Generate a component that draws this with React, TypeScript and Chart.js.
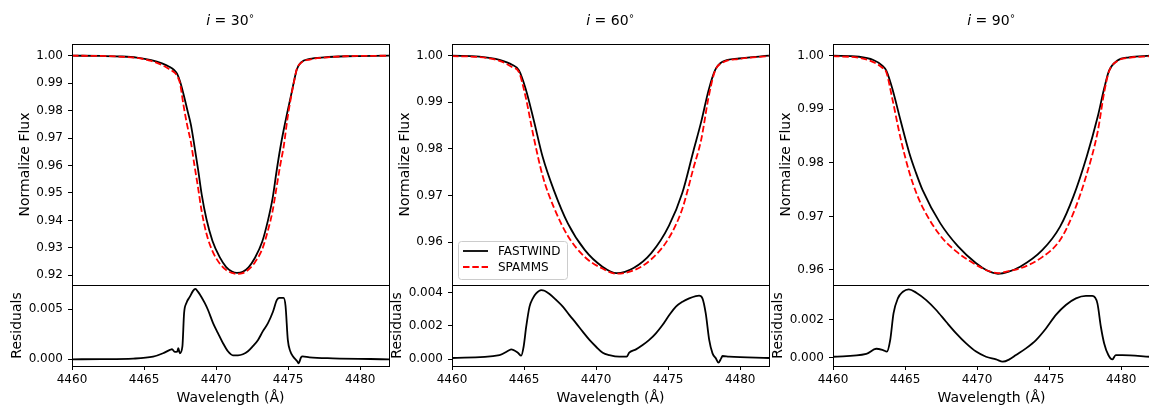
import { useEffect, useRef } from "react";
import { Chart, registerables } from "chart.js";

Chart.register(...registerables);

// ---------------- data ----------------
const INCLINATIONS = [30, 60, 90];
const SERIES_NAMES = ["FASTWIND", "SPAMMS"];
const X_MIN = 4460;
const X_MAX = 4482;
const X_STEP = 5;
const FLUX_STEP = 0.01;
const RES_STEPS = [0.005, 0.002, 0.002];
const FLUX_RANGES = [
  [0.91647, 1.00426],
  [0.95077, 1.00251],
  [0.9572, 1.00218],
];
const RES_RANGES = [
  [-0.000666, 0.007386],
  [-0.000422, 0.004465],
  [-0.000437, 0.003826],
];

// i = 30
const WAVE_30 = [4460, 4462, 4463.5, 4464.5, 4465.5, 4466.25, 4466.75, 4467.1, 4467.3, 4467.5, 4467.75, 4468, 4468.25, 4468.5, 4468.75, 4469, 4469.33, 4469.75, 4470.25, 4470.7, 4471.1, 4471.45, 4471.85, 4472.25, 4472.7, 4473.2, 4473.6, 4473.92, 4474.2, 4474.45, 4474.7, 4474.95, 4475.2, 4475.4, 4475.6, 4475.9, 4476.5, 4477.5, 4479, 4482];
const FASTWIND_30 = [1.0, 0.9999, 0.9997, 0.9993, 0.9984, 0.9972, 0.996, 0.9947, 0.9934, 0.9906, 0.9858, 0.9803, 0.9749, 0.967, 0.9586, 0.9495, 0.9405, 0.9325, 0.9266, 0.923, 0.9214, 0.9209, 0.9213, 0.9229, 0.9264, 0.9322, 0.94, 0.948, 0.958, 0.9662, 0.9732, 0.9795, 0.9855, 0.9905, 0.995, 0.9976, 0.9988, 0.9994, 0.9998, 1.0];
const SPAMMS_30 = [1.0, 0.9999, 0.9996, 0.9992, 0.9981, 0.9966, 0.9951, 0.9939, 0.9926, 0.9898, 0.9816, 0.9745, 0.9685, 0.96, 0.9519, 0.9433, 0.9352, 0.9288, 0.9243, 0.9219, 0.9209, 0.9205, 0.9208, 0.9221, 0.9248, 0.9295, 0.9364, 0.9434, 0.9522, 0.9601, 0.9672, 0.977, 0.9849, 0.9903, 0.9951, 0.9974, 0.9986, 0.9993, 0.9998, 1.0];
const RES_WAVE_30 = [4460, 4462, 4464.25, 4465.63, 4466.32, 4466.79, 4466.94, 4467.13, 4467.3, 4467.38, 4467.48, 4467.66, 4467.78, 4467.94, 4468.17, 4468.4, 4468.56, 4468.75, 4468.98, 4469.21, 4469.44, 4469.79, 4470.13, 4470.48, 4470.82, 4471.17, 4471.52, 4471.86, 4472.21, 4472.55, 4472.9, 4473.25, 4473.6, 4473.94, 4474.22, 4474.4, 4474.68, 4474.82, 4474.98, 4475.15, 4475.33, 4475.63, 4475.72, 4475.9, 4476.0, 4476.48, 4478.1, 4482];
const RES_30 = [0.0, 0.00002, 0.00007, 0.00026, 0.0006, 0.00093, 0.001, 0.00073, 0.00076, 0.0011, 0.0006, 0.00126, 0.0046, 0.0056, 0.0062, 0.0068, 0.007, 0.0067, 0.0062, 0.0056, 0.0049, 0.0036, 0.0026, 0.0016, 0.0008, 0.0004, 0.0004, 0.0005, 0.0008, 0.0013, 0.0019, 0.0028, 0.0036, 0.0047, 0.0059, 0.0061, 0.0061, 0.0053, 0.0019, 0.0008, 0.0003, -0.0002, -0.0004, 0.0002, 0.0003, 0.0002, 0.0001, 0.0];

// i = 60
const WAVE_60 = [4460, 4461.9, 4463.3, 4464.2, 4464.64, 4465.1, 4465.67, 4466.29, 4467.06, 4468.04, 4469.21, 4470.44, 4471.43, 4472.6, 4473.83, 4475.06, 4475.98, 4476.75, 4477.31, 4477.8, 4478.26, 4478.77, 4479.92, 4482];
const FASTWIND_60 = [1.0, 0.9998, 0.9991, 0.998, 0.9969, 0.993, 0.9862, 0.9783, 0.9712, 0.964, 0.9583, 0.9547, 0.9533, 0.9544, 0.9576, 0.9635, 0.9705, 0.9795, 0.986, 0.9925, 0.9969, 0.9987, 0.9994, 1.0];
const SPAMMS_60 = [0.9999, 0.9997, 0.9989, 0.9975, 0.9965, 0.9913, 0.9825, 0.9742, 0.9675, 0.9613, 0.9568, 0.9543, 0.9532, 0.9539, 0.9563, 0.9609, 0.9671, 0.9758, 0.9822, 0.991, 0.9968, 0.9985, 0.9993, 0.9999];
const RES_WAVE_60 = [4460, 4463.3, 4464.0, 4464.1, 4464.57, 4464.8, 4464.97, 4465.15, 4465.38, 4465.61, 4465.84, 4466.19, 4466.42, 4466.77, 4467.23, 4467.69, 4468.15, 4468.62, 4469.07, 4469.54, 4470.0, 4470.46, 4470.92, 4471.61, 4472.12, 4472.3, 4472.77, 4473.23, 4473.69, 4474.15, 4474.61, 4475.08, 4475.54, 4476.0, 4476.46, 4476.92, 4477.15, 4477.38, 4477.61, 4477.85, 4478.08, 4478.31, 4478.49, 4478.68, 4478.77, 4479.23, 4482];
const RES_60 = [0.00006, 0.00024, 0.00054, 0.00058, 0.00038, 0.0002, 0.00074, 0.00195, 0.00316, 0.00366, 0.00396, 0.00416, 0.00412, 0.00392, 0.00356, 0.00316, 0.00265, 0.00215, 0.00165, 0.00115, 0.00074, 0.00038, 0.00024, 0.00014, 0.00014, 0.00038, 0.00058, 0.00084, 0.00115, 0.00155, 0.00205, 0.00265, 0.00316, 0.00346, 0.00366, 0.0038, 0.00382, 0.00366, 0.00275, 0.00115, 0.00034, 0.00004, -0.00022, 0.00004, 0.00018, 0.00014, 0.00006];

// i = 90
const WAVE_90 = [4460, 4461.8, 4462.8, 4463.4, 4463.7, 4464.1, 4464.68, 4465.3, 4465.75, 4466.22, 4467.45, 4468.68, 4469.91, 4470.7, 4471.45, 4472.2, 4472.99, 4474.52, 4475.76, 4476.68, 4477.61, 4478.37, 4478.83, 4479.16, 4479.74, 4480.55, 4482];
const FASTWIND_90 = [1.0, 0.9998, 0.9992, 0.9982, 0.9972, 0.994, 0.988, 0.9818, 0.9782, 0.9749, 0.9687, 0.9644, 0.9613, 0.9599, 0.9593, 0.9597, 0.9606, 0.9637, 0.9681, 0.9737, 0.9812, 0.9886, 0.994, 0.9972, 0.9991, 0.9997, 1.0];
const SPAMMS_90 = [0.9999, 0.9996, 0.9988, 0.9978, 0.9969, 0.9922, 0.9847, 0.9782, 0.9746, 0.9717, 0.9664, 0.9632, 0.961, 0.9599, 0.9594, 0.9598, 0.9603, 0.9624, 0.9656, 0.9706, 0.9779, 0.9858, 0.9933, 0.9971, 0.999, 0.9996, 0.9999];
const RES_WAVE_90 = [4460, 4462.31, 4463.0, 4463.46, 4463.74, 4463.97, 4464.2, 4464.5, 4464.85, 4465.26, 4465.78, 4466.47, 4467.16, 4467.85, 4468.55, 4469.24, 4469.93, 4470.62, 4471.32, 4471.78, 4472.24, 4472.7, 4473.39, 4474.09, 4474.78, 4475.47, 4476.16, 4476.86, 4477.55, 4478.0, 4478.35, 4478.59, 4478.82, 4479.11, 4479.39, 4479.62, 4480.08, 4482];
const RES_90 = [0.00005, 0.0002, 0.00047, 0.0004, 0.00032, 0.00093, 0.00233, 0.00312, 0.00347, 0.0036, 0.00342, 0.00303, 0.00251, 0.00189, 0.00128, 0.00075, 0.00032, 0.00005, -0.00009, -0.00021, -0.00009, 0.00014, 0.00049, 0.00093, 0.00154, 0.00225, 0.00277, 0.00312, 0.00325, 0.00325, 0.00286, 0.00163, 0.00075, 0.00014, -0.00009, 0.00014, 0.00014, 0.00005];

const WAVES = [WAVE_30, WAVE_60, WAVE_90];
const FASTWIND = [FASTWIND_30, FASTWIND_60, FASTWIND_90];
const SPAMMS = [SPAMMS_30, SPAMMS_60, SPAMMS_90];
const RES_WAVES = [RES_WAVE_30, RES_WAVE_60, RES_WAVE_90];
const RESIDUALS = [RES_30, RES_60, RES_90];
const LEGEND_PANEL = 1;

// ---------------- layout / style ----------------
const FONT = '"DejaVu Sans", "Liberation Sans", sans-serif';
const PANEL_LEFTS = [72, 452, 833];
const PLOT_W = 317;
const AXIS_W = 72;
const TOP_Y = 44;
const MID_Y = 285;
const BOT_Y = 366;
const BOTTOM_CANVAS_TOP = 280;
const PAGE_H = 410;
const LINE_W = 1.8;

const toPoints = (xs: number[], ys: number[]) => xs.map((x, i) => ({ x, y: ys[i] }));

const framePlugin = {
  id: "frame",
  afterDraw(chart: any) {
    const { ctx, chartArea: a } = chart;
    ctx.save();
    ctx.strokeStyle = "#000";
    ctx.lineWidth = 1;
    ctx.strokeRect(Math.round(a.left) + 0.5, Math.round(a.top) + 0.5, Math.round(a.right - a.left), Math.round(a.bottom - a.top));
    ctx.restore();
  },
};

const makeTitlePlugin = (value: number) => ({
  id: "mathTitle",
  afterDraw(chart: any) {
    const { ctx, chartArea: a } = chart;
    const size = 14;
    const parts = [
      { t: "i", f: `italic ${size}px ${FONT}`, dy: 0 },
      { t: " = " + value, f: `${size}px ${FONT}`, dy: 0 },
      { t: "\u2218", f: `${Math.round(size * 0.7)}px ${FONT}`, dy: -6 },
    ];
    ctx.save();
    let total = 0;
    const widths = parts.map((p) => {
      ctx.font = p.f;
      const w = ctx.measureText(p.t).width;
      total += w;
      return w;
    });
    let x = (a.left + a.right) / 2 - total / 2;
    const baseY = 25;
    ctx.fillStyle = "#000";
    ctx.textBaseline = "alphabetic";
    ctx.textAlign = "left";
    parts.forEach((p, i) => {
      ctx.font = p.f;
      ctx.fillText(p.t, x, baseY + p.dy);
      x += widths[i];
    });
    ctx.restore();
  },
});

const boxLegendPlugin = {
  id: "boxLegend",
  afterDraw(chart: any) {
    const { ctx, chartArea: a } = chart;
    const w = 109;
    const h = 38;
    const x = a.left + 6;
    const y = a.bottom - 6 - h;
    ctx.save();
    ctx.beginPath();
    if (ctx.roundRect) ctx.roundRect(x + 0.5, y + 0.5, w, h, 3);
    else ctx.rect(x + 0.5, y + 0.5, w, h);
    ctx.fillStyle = "rgba(255,255,255,0.8)";
    ctx.fill();
    ctx.strokeStyle = "#cccccc";
    ctx.lineWidth = 1;
    ctx.stroke();
    chart.data.datasets.forEach((ds: any, i: number) => {
      const cy = y + 10 + i * 16;
      ctx.beginPath();
      ctx.setLineDash(ds.borderDash || []);
      ctx.strokeStyle = ds.borderColor;
      ctx.lineWidth = ds.borderWidth;
      ctx.moveTo(x + 5, cy);
      ctx.lineTo(x + 30, cy);
      ctx.stroke();
      ctx.setLineDash([]);
      ctx.fillStyle = "#000";
      ctx.font = `12px ${FONT}`;
      ctx.textBaseline = "middle";
      ctx.textAlign = "left";
      ctx.fillText(ds.label, x + 40, cy + 0.5);
    });
    ctx.restore();
  },
};

const tickGrid = {
  display: true,
  drawOnChartArea: false,
  drawTicks: true,
  tickLength: 4,
  tickColor: "#000",
  tickWidth: 1,
};

function xScale(show: boolean) {
  return {
    type: "linear",
    min: X_MIN,
    max: X_MAX,
    display: show,
    grid: tickGrid,
    border: { display: false },
    ticks: {
      stepSize: X_STEP,
      includeBounds: false,
      autoSkip: false,
      maxRotation: 0,
      padding: 3,
      color: "#000",
      font: { family: FONT, size: 12 },
      callback: (v: any) => String(v),
    },
    title: {
      display: show,
      text: "Wavelength (\u00c5)",
      color: "#000",
      font: { family: FONT, size: 14 },
      padding: { top: 0, bottom: 3 },
    },
    afterFit: (s: any) => {
      s.height = show ? PAGE_H - BOT_Y : 0;
      s.paddingLeft = 0;
      s.paddingRight = 0;
    },
  };
}

function yScale(range: number[], step: number, decimals: number, label: string, titlePad: number) {
  return {
    type: "linear",
    min: range[0],
    max: range[1],
    grid: tickGrid,
    border: { display: false },
    ticks: {
      stepSize: step,
      includeBounds: false,
      autoSkip: false,
      padding: 5,
      color: "#000",
      font: { family: FONT, size: 12 },
      callback: (v: any) => Number(v).toFixed(decimals),
    },
    title: {
      display: true,
      text: label,
      color: "#000",
      font: { family: FONT, size: 14 },
      padding: { top: titlePad, bottom: 0 },
    },
    afterFit: (s: any) => {
      s.width = AXIS_W;
      s.paddingTop = 0;
      s.paddingBottom = 0;
    },
  };
}

function fluxConfig(i: number): any {
  const plugins: any[] = [framePlugin, makeTitlePlugin(INCLINATIONS[i])];
  if (i === LEGEND_PANEL) plugins.push(boxLegendPlugin);
  return {
    type: "line",
    data: {
      datasets: [
        {
          label: SERIES_NAMES[0],
          data: toPoints(WAVES[i], FASTWIND[i]),
          borderColor: "#000000",
          borderWidth: LINE_W,
          pointRadius: 0,
          cubicInterpolationMode: "monotone",
          fill: false,
          order: 1,
        },
        {
          label: SERIES_NAMES[1],
          data: toPoints(WAVES[i], SPAMMS[i]),
          borderColor: "#ff0000",
          borderWidth: LINE_W,
          borderDash: [6.5, 2.8],
          pointRadius: 0,
          cubicInterpolationMode: "monotone",
          fill: false,
          order: 0,
        },
      ],
    },
    options: {
      animation: false,
      responsive: false,
      devicePixelRatio: 1,
      events: [],
      layout: { padding: { top: TOP_Y, bottom: 2, left: 0, right: 2 } },
      plugins: { legend: { display: false }, tooltip: { enabled: false }, title: { display: false } },
      scales: {
        x: xScale(false),
        y: yScale(FLUX_RANGES[i], FLUX_STEP, 2, "Normalize Flux", 16.5),
      },
    },
    plugins,
  };
}

function residualConfig(i: number): any {
  return {
    type: "line",
    data: {
      datasets: [
        {
          label: "Residuals",
          data: toPoints(RES_WAVES[i], RESIDUALS[i]),
          borderColor: "#000000",
          borderWidth: LINE_W,
          pointRadius: 0,
          cubicInterpolationMode: "monotone",
          fill: false,
        },
      ],
    },
    options: {
      animation: false,
      responsive: false,
      devicePixelRatio: 1,
      events: [],
      layout: { padding: { top: MID_Y - BOTTOM_CANVAS_TOP, bottom: 0, left: 0, right: 2 } },
      plugins: { legend: { display: false }, tooltip: { enabled: false }, title: { display: false } },
      scales: {
        x: xScale(true),
        y: yScale(RES_RANGES[i], RES_STEPS[i], 3, "Residuals", 8.5),
      },
    },
    plugins: [framePlugin],
  };
}

function ChartCanvas(props: { left: number; top: number; width: number; height: number; build: (i: number) => any; index: number }) {
  const ref = useRef<HTMLCanvasElement | null>(null);
  const { left, top, width, height, build, index } = props;
  useEffect(() => {
    if (!ref.current) return;
    const chart = new Chart(ref.current, build(index));
    return () => chart.destroy();
  }, [build, index]);
  return (
    <canvas
      ref={ref}
      width={width}
      height={height}
      style={{ position: "absolute", left, top, width, height, display: "block" }}
    />
  );
}

export default function App() {
  const canvasW = AXIS_W + PLOT_W + 2;
  return (
    <div
      style={{
        position: "absolute",
        left: 0,
        top: 0,
        width: 1149,
        height: PAGE_H,
        overflow: "hidden",
        background: "#ffffff",
      }}
    >
      {INCLINATIONS.map((inc, i) => (
        <div key={inc}>
          <ChartCanvas
            left={PANEL_LEFTS[i] - AXIS_W}
            top={0}
            width={canvasW}
            height={MID_Y + 2}
            build={fluxConfig}
            index={i}
          />
          <ChartCanvas
            left={PANEL_LEFTS[i] - AXIS_W}
            top={BOTTOM_CANVAS_TOP}
            width={canvasW}
            height={PAGE_H - BOTTOM_CANVAS_TOP}
            build={residualConfig}
            index={i}
          />
        </div>
      ))}
    </div>
  );
}
